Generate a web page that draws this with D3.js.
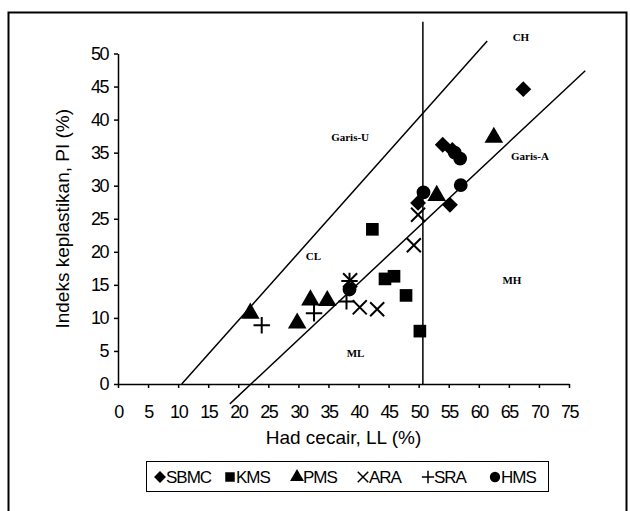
<!DOCTYPE html>
<html>
<head>
<meta charset="utf-8">
<script src="https://cdn.jsdelivr.net/npm/d3@7"></script>
<style>
  body { margin: 0; background: #fff; }
  svg { display: block; }
</style>
</head>
<body>
<svg id="chart" width="630" height="511"></svg>
<script>
// Data (LL, PI)
var sbmc = [[67.4, 44.6], [54.0, 36.2], [55.6, 35.4], [49.9, 27.4], [55.2, 27.1]];
var kms = [[42.3, 23.4], [44.4, 15.9], [45.9, 16.3], [47.9, 13.4], [50.2, 8.0]];
var pms = [[22.0, 10.7], [29.8, 9.2], [32.0, 12.7], [34.8, 12.6], [53.0, 28.5], [62.5, 37.3]];
var ara = [[38.6, 15.7], [40.2, 11.6], [43.1, 11.3], [49.2, 21.0], [49.9, 25.6]];
var sra = [[23.9, 8.9], [32.6, 10.7], [38.0, 12.5], [38.5, 15.6]];
var hms = [[38.5, 14.3], [50.8, 29.0], [57.0, 30.1], [56.0, 35.0], [56.9, 34.1]];

// Reference lines
var garisU = [[10.6, 0], [61.4, 51.9]];
var garisA = [[18.6, -3.0], [77.7, 47.4]];
var garisLL50 = [[50.7, 0], [50.7, 54.8]];

var xTicks = d3.range(0, 80, 5);
var yTicks = d3.range(0, 55, 5);

// zone labels [text, LL, PI]
var zoneLabels = [["CH", 67.0, 52.4], ["Garis-U", 38.6, 37.4], ["Garis-A", 68.5, 34.5],
  ["CL", 32.5, 19.3], ["ML", 39.5, 4.6], ["MH", 65.5, 15.7]];

var legendNames = ["SBMC", "KMS", "PMS", "ARA", "SRA", "HMS"];

var svg = d3.select("#chart");

// outer frame
svg.append("rect")
  .attr("x", 8.5).attr("y", 12.5)
  .attr("width", 618).attr("height", 520)
  .attr("fill", "none").attr("stroke", "#000").attr("stroke-width", 2);

var x = d3.scaleLinear().domain([0, 75]).range([118, 569]);
var y = d3.scaleLinear().domain([0, 50]).range([384, 53.5]);

// axes
var xAxis = svg.append("g")
  .attr("transform", "translate(0," + y(0) + ")")
  .call(d3.axisBottom(x).tickValues(xTicks).tickSize(4).tickSizeOuter(0).tickPadding(17));
var yAxis = svg.append("g")
  .attr("transform", "translate(" + x(0) + ",0)")
  .call(d3.axisLeft(y).tickValues(yTicks).tickSize(4).tickSizeOuter(0).tickPadding(6));

[xAxis, yAxis].forEach(function(a) {
  a.selectAll("path, line").attr("stroke", "#000").attr("stroke-width", 1.5);
  a.selectAll("text")
    .attr("fill", "#000")
    .style("font-family", "'Liberation Sans', Arial, sans-serif")
    .style("font-size", "18px")
    .style("letter-spacing", "-1.5px");
});

// axis titles
svg.append("text")
  .attr("x", (x(0) + x(75)) / 2).attr("y", 444)
  .attr("text-anchor", "middle")
  .style("font-family", "'Liberation Sans', Arial, sans-serif")
  .style("font-size", "19px")
  .text("Had cecair, LL (%)");

svg.append("text")
  .attr("transform", "translate(69," + ((y(0) + y(50)) / 2) + ") rotate(-90)")
  .attr("text-anchor", "middle")
  .style("font-family", "'Liberation Sans', Arial, sans-serif")
  .style("font-size", "19px")
  .text("Indeks keplastikan, PI (%)");

// reference lines
var line = d3.line().x(function(d) { return x(d[0]); }).y(function(d) { return y(d[1]); });
[garisU, garisA, garisLL50].forEach(function(l) {
  svg.append("path").attr("d", line(l))
    .attr("fill", "none").attr("stroke", "#000").attr("stroke-width", 1.5);
});

// zone labels
svg.selectAll(".zone")
  .data(zoneLabels)
  .enter().append("text")
  .attr("x", function(d) { return x(d[1]); })
  .attr("y", function(d) { return y(d[2]); })
  .attr("text-anchor", "middle")
  .attr("dy", "0.35em")
  .style("font-family", "'Liberation Serif', 'Times New Roman', serif")
  .style("font-weight", "bold")
  .style("font-size", "11px")
  .text(function(d) { return d[0]; });

// marker shapes
var symbols = {
  SBMC: d3.symbol().type(d3.symbolDiamond2).size(160),
  KMS: d3.symbol().type(d3.symbolSquare).size(160),
  PMS: d3.symbol().type(d3.symbolTriangle).size(150),
  ARA: d3.symbol().type(d3.symbolX).size(130),
  SRA: d3.symbol().type(d3.symbolPlus).size(90),
  HMS: d3.symbol().type(d3.symbolCircle).size(150)
};
var series = { SBMC: sbmc, KMS: kms, PMS: pms, ARA: ara, SRA: sra, HMS: hms };
var filled = { SBMC: true, KMS: true, PMS: true, ARA: false, SRA: false, HMS: true };

function drawMarker(g, name) {
  var p = g.append("path").attr("d", symbols[name]());
  if (filled[name]) {
    p.attr("fill", "#000");
  } else {
    p.attr("fill", "none").attr("stroke", "#000").attr("stroke-width", 2);
  }
  return p;
}

legendNames.forEach(function(name) {
  series[name].forEach(function(d) {
    var g = svg.append("g")
      .attr("transform", "translate(" + x(d[0]) + "," + y(d[1]) + ")");
    drawMarker(g, name);
  });
});

// legend
var legend = svg.append("g");
legend.append("rect")
  .attr("x", 146.5).attr("y", 461.5)
  .attr("width", 402).attr("height", 30)
  .attr("fill", "#fff").attr("stroke", "#000").attr("stroke-width", 1);

var legendX = [160, 230, 297, 363, 428, 495];
legendNames.forEach(function(name, i) {
  var g = legend.append("g").attr("transform", "translate(" + legendX[i] + ",477)");
  var m = g.append("g").attr("transform", "scale(0.75)");
  drawMarker(m, name);
  g.append("text")
    .attr("x", 6).attr("dy", "0.35em")
    .style("font-family", "'Liberation Sans', Arial, sans-serif")
    .style("font-size", "17px")
    .style("letter-spacing", "-1px")
    .text(name);
});
</script>
</body>
</html>
